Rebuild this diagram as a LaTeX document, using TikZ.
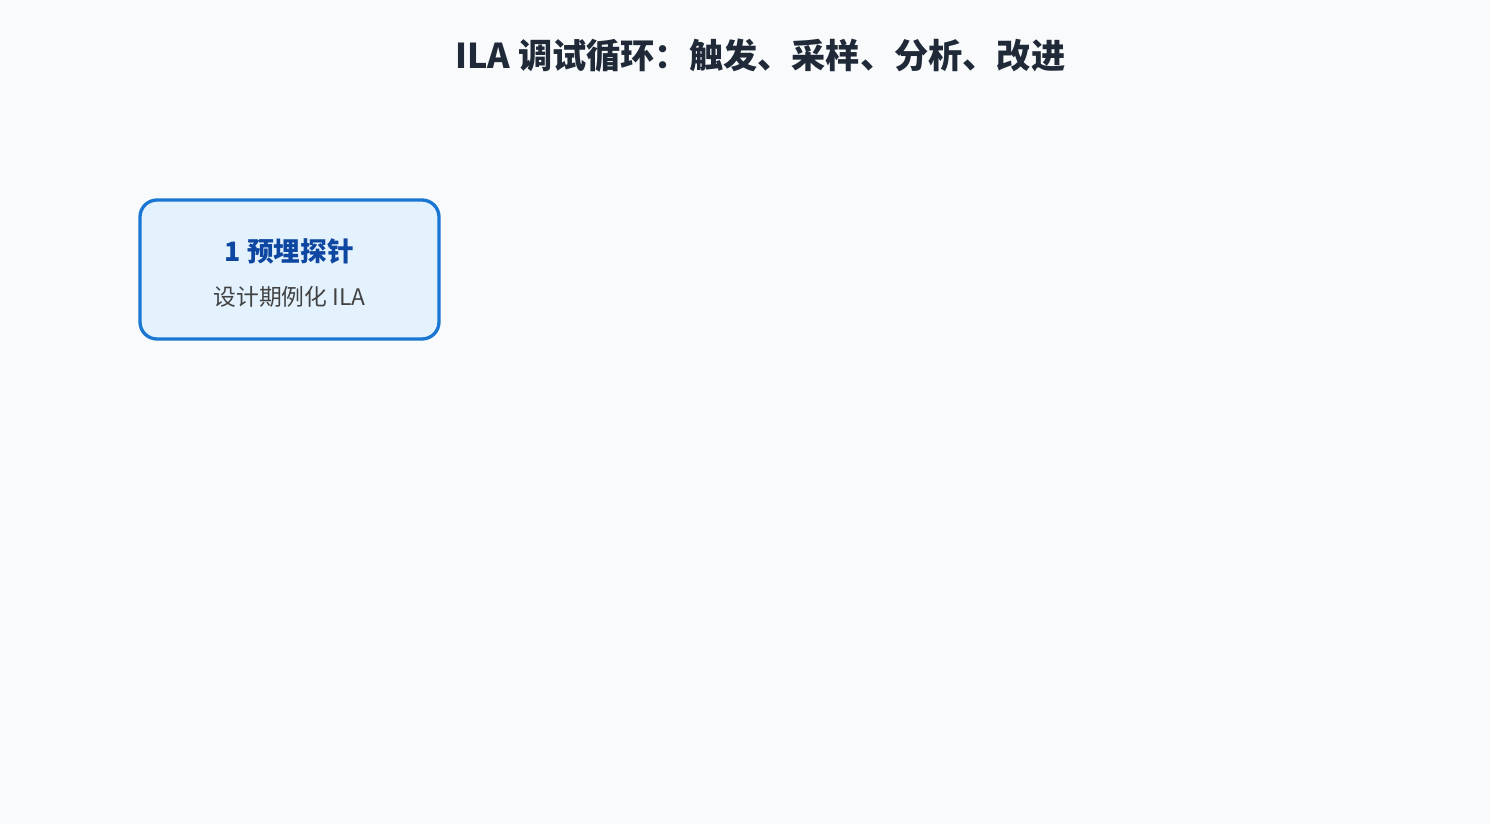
\documentclass[tikz,border=0pt]{standalone}
\usepackage{fontspec}
\setmainfont{Noto Sans CJK SC}
\definecolor{bgc}{HTML}{F8FAFC}
\definecolor{boxfill}{HTML}{E3F2FD}
\definecolor{boxline}{HTML}{1976D2}
\definecolor{headc}{HTML}{0D47A1}
\definecolor{subc}{HTML}{424242}
\definecolor{titlec}{HTML}{1F2937}
\tikzset{
  stepbox/.style={draw=boxline, line width=3.3pt, fill=boxfill, rounded corners=17pt,
    minimum width=299pt, minimum height=139pt, inner sep=0pt},
  headtext/.style={font=\fontsize{26.7}{32}\selectfont\bfseries, text=headc, inner sep=0pt},
  subtext/.style={font=\fontsize{22.8}{27}\selectfont, text=subc, inner sep=0pt},
  titletext/.style={font=\fontsize{34.2}{40}\selectfont\bfseries, text=titlec, inner sep=0pt}
}
\begin{document}
\begin{tikzpicture}[x=1pt,y=-1pt]
\fill[bgc] (0,0) rectangle (1490,824);
\useasboundingbox (0,0) rectangle (1490,824);
\node[titletext] (title) at (760.5,56) {ILA 调试循环：触发、采样、分析、改进};
\node[stepbox] (s1) at (289.5,269.5) {};
\node[headtext] (s1h) at (289.5,251) {1 预埋探针};
\node[subtext] (s1s) at (289.5,297) {设计期例化 ILA};
\end{tikzpicture}
\end{document}
